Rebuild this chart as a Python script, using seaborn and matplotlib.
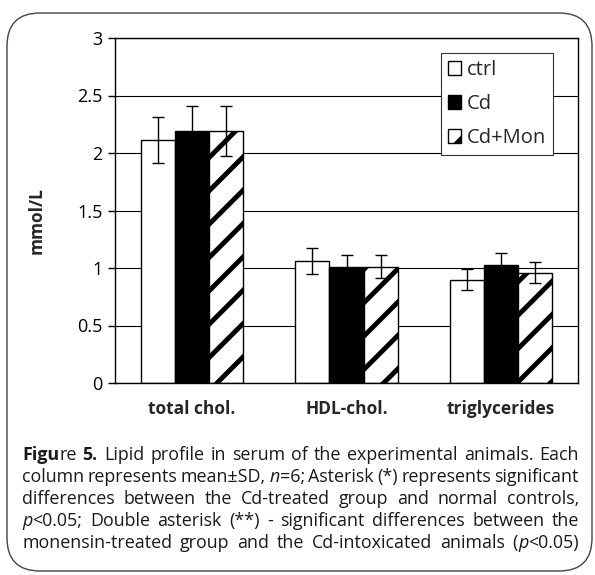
import matplotlib
matplotlib.use("Agg")
import numpy as np
import pandas as pd
import matplotlib.pyplot as plt
import seaborn as sns
from matplotlib.patches import FancyBboxPatch, Patch
from matplotlib.transforms import IdentityTransform

# data (mean and SD, mmol/L)
categories = ["total chol.", "HDL-chol.", "triglycerides"]
groups = ["ctrl", "Cd", "Cd+Mon"]
ctrl_mean = [2.11, 1.06, 0.90]
cd_mean = [2.19, 1.01, 1.03]
mon_mean = [2.19, 1.01, 0.96]
ctrl_sd = [0.20, 0.11, 0.09]
cd_sd = [0.22, 0.10, 0.10]
mon_sd = [0.22, 0.10, 0.09]
y_ticks = [0, 0.5, 1, 1.5, 2, 2.5, 3]

caption_lines = [
    [("Figu", "bold"), ("re ", "normal"), ("5.", "bold"),
     (" Lipid profile in serum of the experimental animals. Each", "normal")],
    [("column represents mean±SD, ", "normal"), ("n", "italic"),
     ("=6; Asterisk (*) represents significant", "normal")],
    [("differences between the Cd-treated group and normal controls,", "normal")],
    [("p", "italic"), ("<0.05; Double asterisk (**) - significant differences between the", "normal")],
    [("monensin-treated group and the Cd-intoxicated animals (", "normal"), ("p", "italic"),
     ("<0.05)", "normal")],
]

sns.set_style("white")
plt.rcParams['font.family'] = ['Open Sans', 'DejaVu Sans']
plt.rcParams['hatch.linewidth'] = 3.5
plt.rcParams['hatch.color'] = 'black'

W, H = 595, 575
fig = plt.figure(figsize=(W / 100, H / 100), dpi=100)
ax = fig.add_axes([115 / W, (H - 383) / H, 463 / W, 345 / H])

df = pd.DataFrame({
    "category": categories * 3,
    "group": [g for g in groups for _ in categories],
    "value": ctrl_mean + cd_mean + mon_mean,
})

sns.barplot(data=df, x="category", y="value", hue="group", hue_order=groups,
            palette=["white", "black", "white"], edgecolor="black", linewidth=1,
            width=0.665, gap=0, errorbar=None, legend=False, ax=ax, zorder=2)

for bar in ax.containers[2]:
    bar.set_hatch("/")

for cont, means, sds in zip(ax.containers, [ctrl_mean, cd_mean, mon_mean], [ctrl_sd, cd_sd, mon_sd]):
    xs = [b.get_x() + b.get_width() / 2 for b in cont]
    ax.errorbar(xs, means, yerr=sds, fmt="none", ecolor="black", elinewidth=1,
                capsize=4.5, capthick=1, zorder=3)

ax.set_ylim(0, 3)
ax.set_xlim(-0.5, 2.5)
ax.set_yticks(y_ticks)
ax.set_yticklabels(["0", "0.5", "1", "1.5", "2", "2.5", "3"])
ax.yaxis.grid(True, color="black", linewidth=0.8)
ax.set_axisbelow(True)
for s in ax.spines.values():
    s.set_color("black")
    s.set_linewidth(1)
ax.tick_params(axis="y", left=True, length=5, width=1, direction="out", pad=4,
               labelsize=13, colors="black")
ax.tick_params(axis="x", bottom=False, length=0, pad=12)
for lab in ax.get_xticklabels():
    lab.set_fontsize(12.5)
    lab.set_fontweight("bold")
ax.set_xlabel("")
ax.set_ylabel("mmol/L", fontsize=12.5, fontweight="bold")
ax.yaxis.set_label_coords(-0.15, 0.47)

handles = [Patch(facecolor="white", edgecolor="black", linewidth=1),
           Patch(facecolor="black", edgecolor="black", linewidth=1),
           Patch(facecolor="white", edgecolor="black", linewidth=1, hatch="/")]
leg = ax.legend(handles, groups, loc="upper left", bbox_to_anchor=(0.704, 0.957),
                fontsize=14.5, frameon=True, fancybox=False, framealpha=1,
                edgecolor="#333333", handlelength=0.65, handleheight=0.65,
                handletextpad=0.3, labelspacing=0.7, borderpad=0.35,
                borderaxespad=0)
leg.get_frame().set_linewidth(0.8)

# rounded border around figure
box = FancyBboxPatch((7, 575 - 571), 585, 571 - 13,
                     boxstyle="round,pad=0,rounding_size=33",
                     transform=IdentityTransform(), facecolor="none",
                     edgecolor="#444444", linewidth=1)
fig.patches.append(box)

# justified caption
fs = 12.9
renderer = fig.canvas.get_renderer()


def style_kw(st):
    if st == "bold":
        return dict(fontweight="bold")
    if st == "italic":
        return dict(fontstyle="italic")
    return {}


def measure(text, st):
    t = fig.text(0, 0, text + "|", fontsize=fs, **style_kw(st))
    w = t.get_window_extent(renderer).width
    t.set_text("|")
    w -= t.get_window_extent(renderer).width
    t.remove()
    return w


x_left, x_right = 22, 579
baseline = 460
for i, runs in enumerate(caption_lines):
    words = [[]]
    for text, st in runs:
        parts = text.split(" ")
        for j, p in enumerate(parts):
            if j > 0:
                words.append([])
            if p:
                words[-1].append((p, st))
    words = [w for w in words if w]
    widths = [[measure(p, st) for p, st in w] for w in words]
    total = sum(sum(w) for w in widths)
    gap = (x_right - x_left - total) / (len(words) - 1)
    x = x_left
    y = baseline + i * 22
    for w, ws in zip(words, widths):
        for (p, st), pw in zip(w, ws):
            fig.text(x / W, 1 - y / H, p, fontsize=fs, va="baseline", ha="left",
                     color="#1a1a1a", **style_kw(st))
            x += pw
        x += gap

fig.savefig("out.png", dpi=100)
